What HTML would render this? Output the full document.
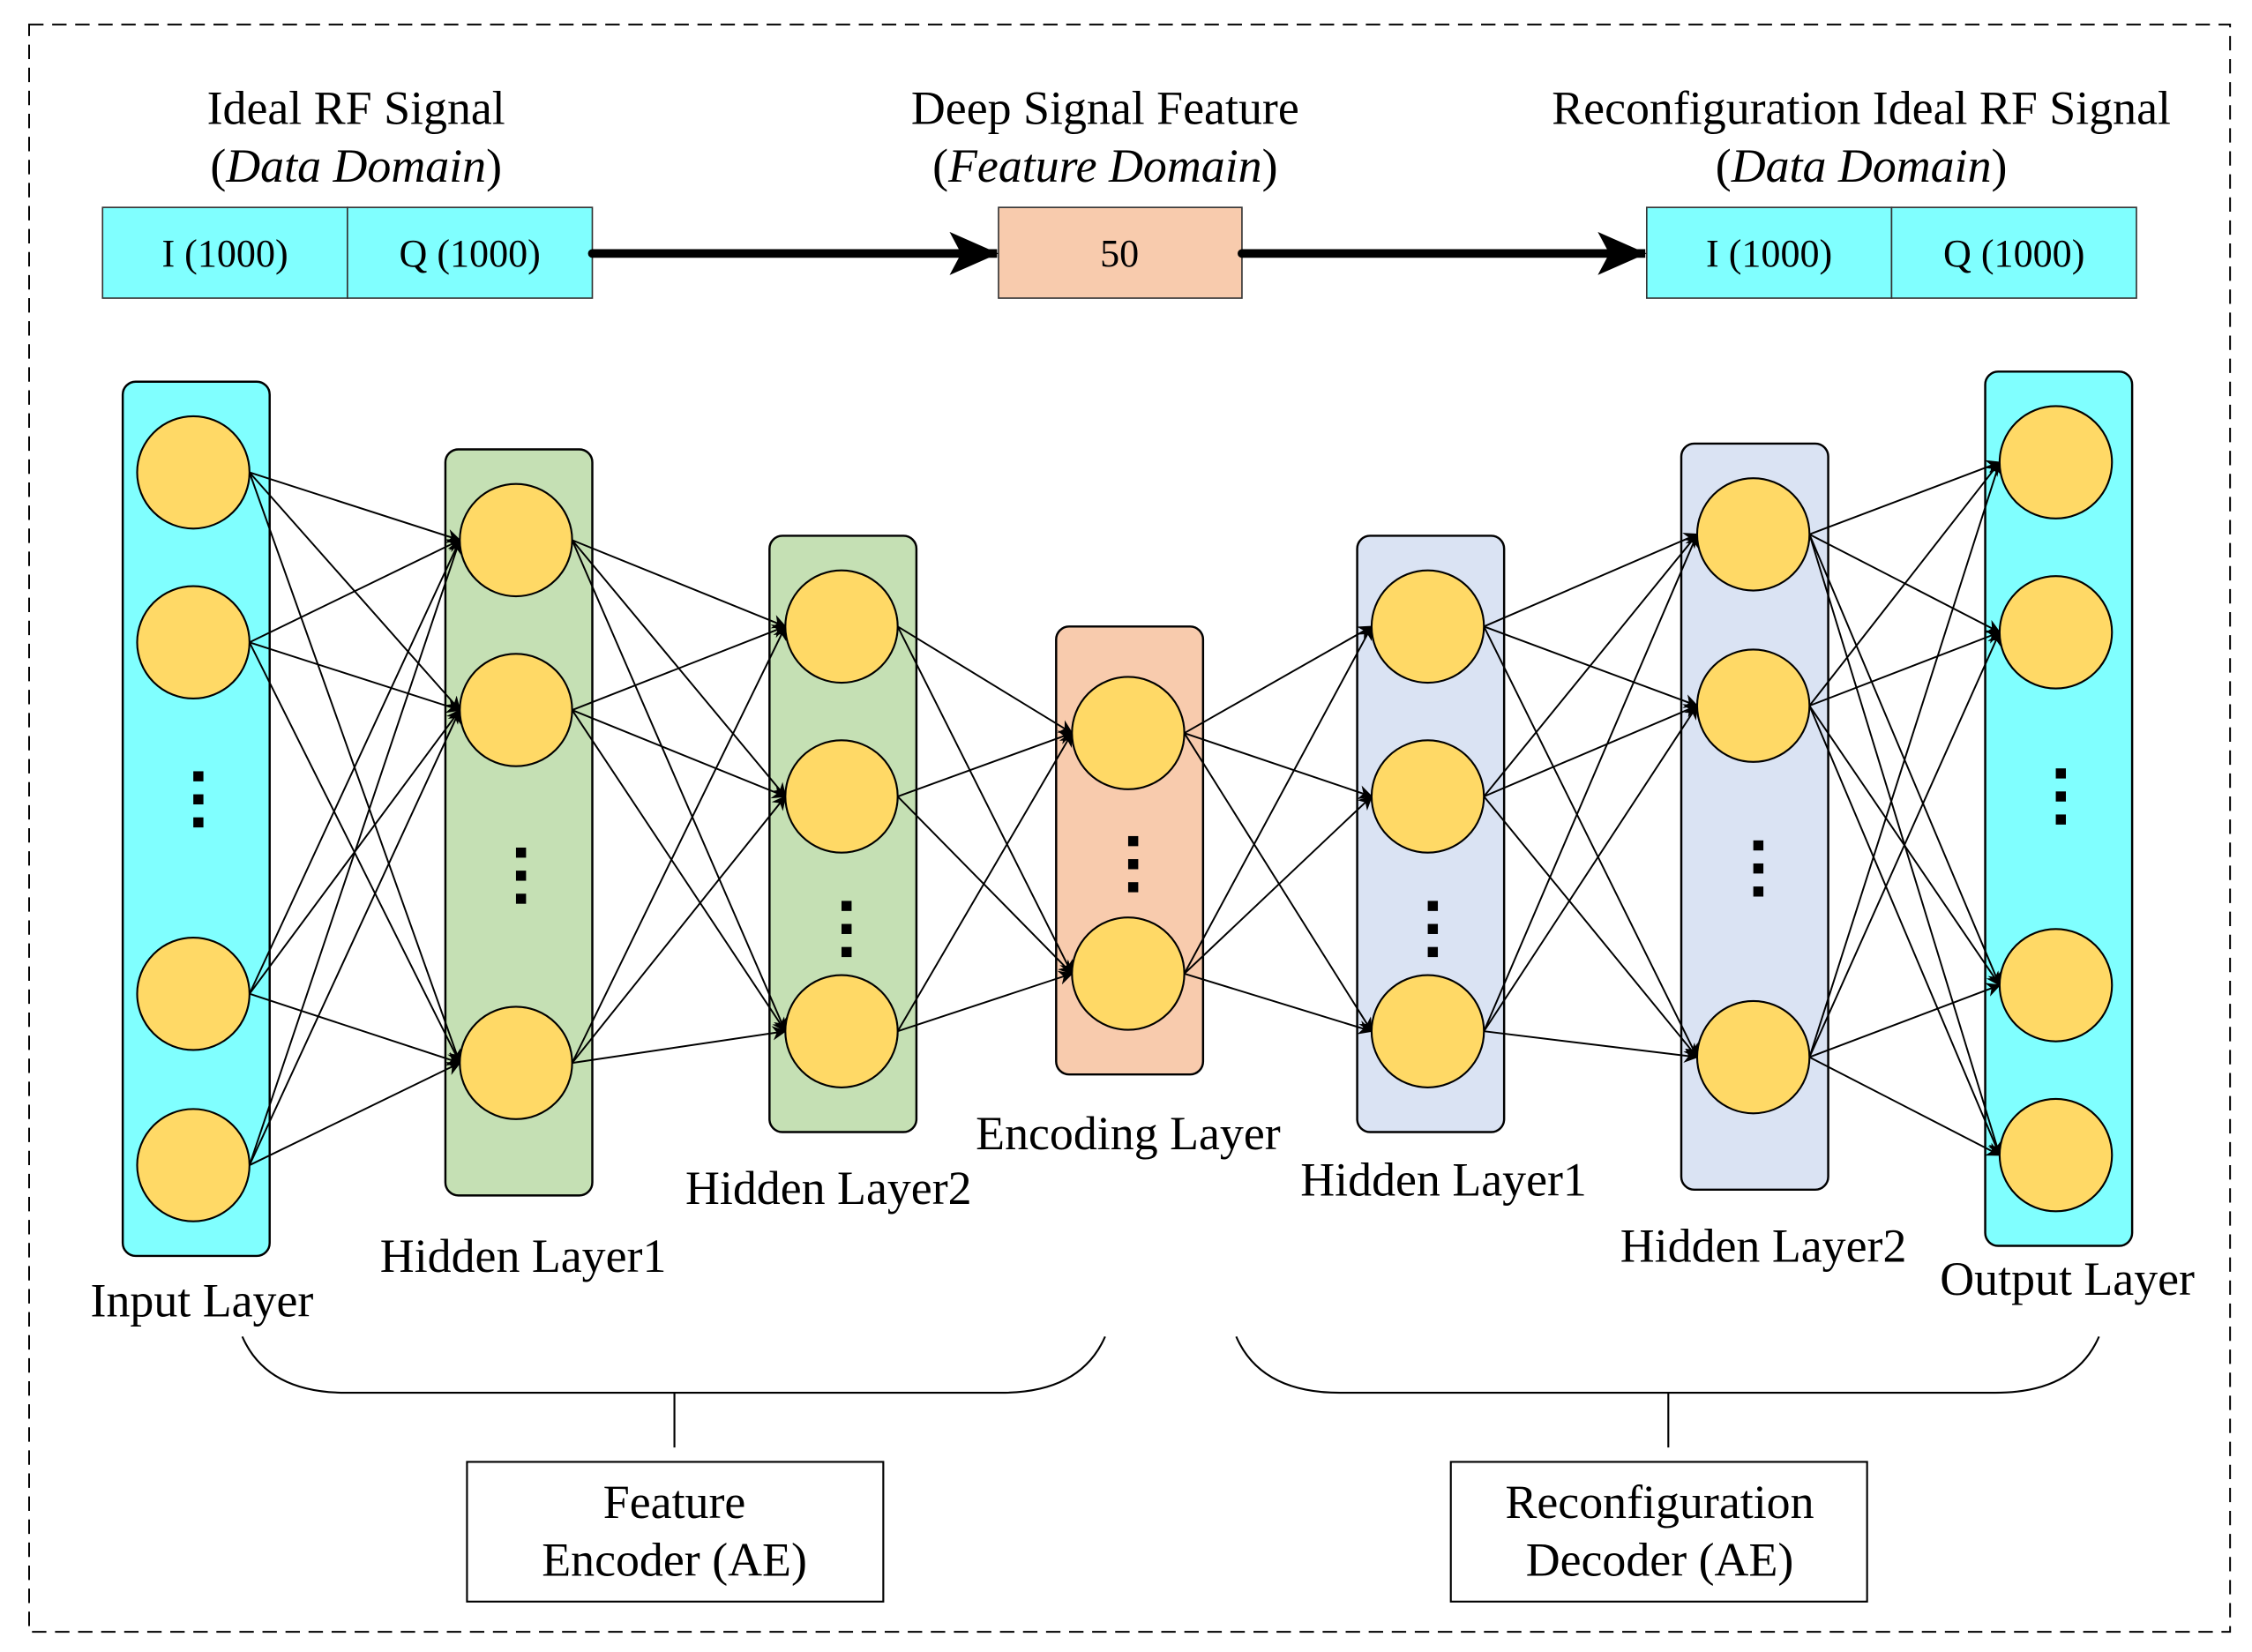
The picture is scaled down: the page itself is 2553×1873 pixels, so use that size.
<!DOCTYPE html>
<html><head><meta charset="utf-8"><style>
html,body{margin:0;padding:0;background:#fff;}
svg{display:block;}
text{font-family:"Liberation Serif",serif;fill:#000;}
</style></head><body>
<svg id="s" width="2553" height="1873" viewBox="0 0 1563 1147" xmlns="http://www.w3.org/2000/svg">
<defs>
<marker id="a" markerWidth="10" markerHeight="10" refX="9" refY="5" orient="auto" markerUnits="userSpaceOnUse" viewBox="0 0 10 10">
<path d="M0,0 L10,5 L0,10 L3,5 z" fill="#000"/></marker>
<marker id="b" markerWidth="34" markerHeight="30" refX="33" refY="15" orient="auto" markerUnits="userSpaceOnUse" viewBox="0 0 34 30">
<path d="M0,0 L34,15 L0,30 L8,15 z" fill="#000"/></marker>
</defs>
<rect x="20" y="17" width="1528" height="1116" fill="none" stroke="#000" stroke-width="1.2" stroke-dasharray="10,6"/>
<g font-size="33" text-anchor="middle">
<text x="247" y="86">Ideal RF Signal</text>
<text x="247" y="126">(<tspan font-style="italic">Data Domain</tspan>)</text>
<text x="767" y="86">Deep Signal Feature</text>
<text x="767" y="126">(<tspan font-style="italic">Feature Domain</tspan>)</text>
<text x="1292" y="86">Reconfiguration Ideal RF Signal</text>
<text x="1292" y="126">(<tspan font-style="italic">Data Domain</tspan>)</text>
</g>
<g stroke="#333" stroke-width="1">
<rect x="71" y="144" width="170" height="63" fill="#80FFFF"/>
<rect x="241" y="144" width="170" height="63" fill="#80FFFF"/>
<rect x="693" y="144" width="169" height="63" fill="#F8CBAD"/>
<rect x="1143" y="144" width="170" height="63" fill="#80FFFF"/>
<rect x="1313" y="144" width="170" height="63" fill="#80FFFF"/>
</g>
<g font-size="27" text-anchor="middle">
<text x="156" y="185">I (1000)</text><text x="326" y="185">Q (1000)</text>
<text x="777" y="185">50</text>
<text x="1228" y="185">I (1000)</text><text x="1398" y="185">Q (1000)</text>
</g>
<g stroke="#000" stroke-width="6" fill="none">
<line x1="411" y1="176" x2="692" y2="176" marker-end="url(#b)"/>
<line x1="862" y1="176" x2="1142" y2="176" marker-end="url(#b)"/>
</g>
<circle cx="411" cy="176" r="3" fill="#000"/><circle cx="862" cy="176" r="3" fill="#000"/>
<g id="layers"></g>
<g font-size="33" text-anchor="middle">
<text x="140" y="914">Input Layer</text>
<text x="363" y="883">Hidden Layer1</text>
<text x="575" y="836">Hidden Layer2</text>
<text x="783" y="798">Encoding Layer</text>
<text x="1002" y="830">Hidden Layer1</text>
<text x="1224" y="876">Hidden Layer2</text>
<text x="1435" y="899">Output Layer</text>
</g>
<g stroke="#000" stroke-width="1.3" fill="none">
<path d="M168,928 Q185,967 240,967 L695,967 Q750,967 767,928"/>
<line x1="468" y1="967" x2="468" y2="1005"/>
<path d="M858,928 Q875,967 930,967 L1385,967 Q1440,967 1457,928"/>
<line x1="1158" y1="967" x2="1158" y2="1005"/>
<rect x="324" y="1015" width="289" height="97"/>
<rect x="1007" y="1015" width="289" height="97"/>
</g>
<g font-size="33" text-anchor="middle">
<text x="468" y="1054">Feature</text><text x="468" y="1094">Encoder (AE)</text>
<text x="1152" y="1054">Reconfiguration</text><text x="1152" y="1094">Decoder (AE)</text>
</g>
</svg>
<script>
var L=[
{x:85,y:265,h:607,c:"#80FFFF",cx:134,n:[328,446,690,809],d:555},
{x:309,y:312,h:518,c:"#C5E0B4",cx:358,n:[375,493,738],d:608},
{x:534,y:372,h:414,c:"#C5E0B4",cx:584,n:[435,553,716],d:645},
{x:733,y:435,h:311,c:"#F8CBAD",cx:783,n:[509,676],d:600},
{x:942,y:372,h:414,c:"#DAE3F3",cx:991,n:[435,553,716],d:645},
{x:1167,y:308,h:518,c:"#DAE3F3",cx:1217,n:[371,490,734],d:603},
{x:1378,y:258,h:607,c:"#80FFFF",cx:1427,n:[321,439,684,802],d:553}];
var r=39,h="";
L.forEach(function(l){h+='<rect x="'+l.x+'" y="'+l.y+'" width="102" height="'+l.h+'" rx="9" fill="'+l.c+'" stroke="#000" stroke-width="1.5"/>';});
for(var i=0;i<L.length-1;i++){var A=L[i],B=L[i+1];A.n.forEach(function(y1){B.n.forEach(function(y2){h+='<line x1="'+(A.cx+r)+'" y1="'+y1+'" x2="'+(B.cx-r)+'" y2="'+y2+'" stroke="#000" stroke-width="1.2" marker-end="url(#a)"/>';});});}
L.forEach(function(l){l.n.forEach(function(y){h+='<circle cx="'+l.cx+'" cy="'+y+'" r="'+r+'" fill="#FFD966" stroke="#000" stroke-width="1.3"/>';});
[-16,0,16].forEach(function(o){h+='<rect x="'+(l.cx+0)+'" y="'+(l.d+o-3.5)+'" width="7" height="7" fill="#000"/>';});});
document.getElementById("layers").innerHTML=h;
</script>
</body></html>
